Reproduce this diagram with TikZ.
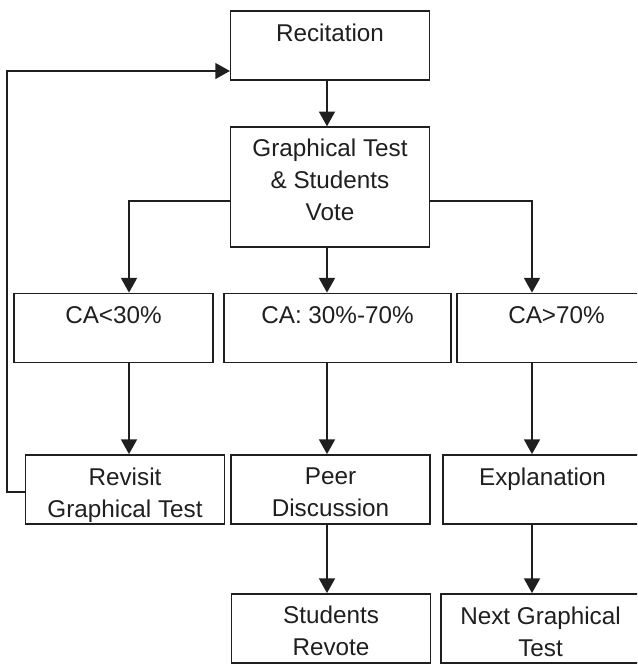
\documentclass[tikz,border=0pt]{standalone}
\usepackage{fontspec}
\setmainfont{Liberation Sans}
\usetikzlibrary{arrows.meta, positioning}

\begin{document}
\begin{tikzpicture}[x = .75pt, y = -.75pt, > = {Triangle[length = 11pt, width = 12pt]}, line width = 1.1pt, color = black!88,
    every node/.style = {inner sep = 0pt},
    box/.style = {draw, rectangle, minimum width = 149pt, minimum height = 52pt},
    txt/.style = {align = center, font = \fontsize{18.2}{24}\selectfont}]
    \useasboundingbox (0, 0) rectangle (637, 664);
    \clip (0, 0) rectangle (637, 664);
    \coordinate (lx) at (129, 0);
    \coordinate (mx) at (327, 0);
    \coordinate (rx) at (532, 0);
    \coordinate (loopx) at (7, 0);
    \coordinate (split) at (0, 201);
    \coordinate (back) at (0, 492);
    \coordinate (recin) at (0, 71);
    \node[box] (rec) at (330, 45.5) {};
    \node[box, minimum height = 90pt] (gtv) at (330, 187) {};
    \node[box] (ca1) at (113.5, 328) {};
    \node[box, minimum width = 170pt] (ca2) at (337.5, 328) {};
    \node[box] (ca3) at (556.5, 328) {};
    \node[box] (rvs) at (125, 489.5) {};
    \node[box] (peer) at (330.5, 489.5) {};
    \node[box] (expl) at (542.5, 489.5) {};
    \node[box] (srv) at (331, 628.5) {};
    \node[box] (ngt) at (540.5, 628.5) {};
    \node[txt, below = 9.6pt of rec.north] (recT) {Recitation};
    \node[txt, below = 9.2pt of gtv.north] (gtvT) {Graphical Test\\\& Students\\Vote};
    \node[txt, below = 9.6pt of ca1.north] (ca1T) {CA<30\%};
    \node[txt, below = 9.6pt of ca2.north] (ca2T) {CA: 30\%-70\%};
    \node[txt, below = 9.6pt of ca3.north] (ca3T) {CA>70\%};
    \node[txt, below = 9.6pt of rvs.north] (rvsT) {Revisit\\Graphical Test};
    \node[txt, below = 9.6pt of peer.north] (peerT) {Peer\\Discussion};
    \node[txt, below = 9.6pt of expl.north] (explT) {Explanation};
    \node[txt, below = 9.2pt of srv.north] (srvT) {Students\\Revote};
    \node[txt, below = 9.6pt of ngt.north] (ngtT) {Next Graphical\\Test};
    \draw[->] (rec.south -| mx) -- (gtv.north -| mx);
    \draw[->] (gtv.west |- split) -| (ca1.north -| lx);
    \draw[->] (gtv.south -| mx) -- (ca2.north -| mx);
    \draw[->] (gtv.east |- split) -| (ca3.north -| rx);
    \draw[->] (ca1.south -| lx) -- (rvs.north -| lx);
    \draw[->] (ca2.south -| mx) -- (peer.north -| mx);
    \draw[->] (ca3.south -| rx) -- (expl.north -| rx);
    \draw[->] (peer.south -| mx) -- (srv.north -| mx);
    \draw[->] (expl.south -| rx) -- (ngt.north -| rx);
    \draw[->] (rvs.west |- back) -| (loopx |- recin) -- (rec.west |- recin);
\end{tikzpicture}
\end{document}
